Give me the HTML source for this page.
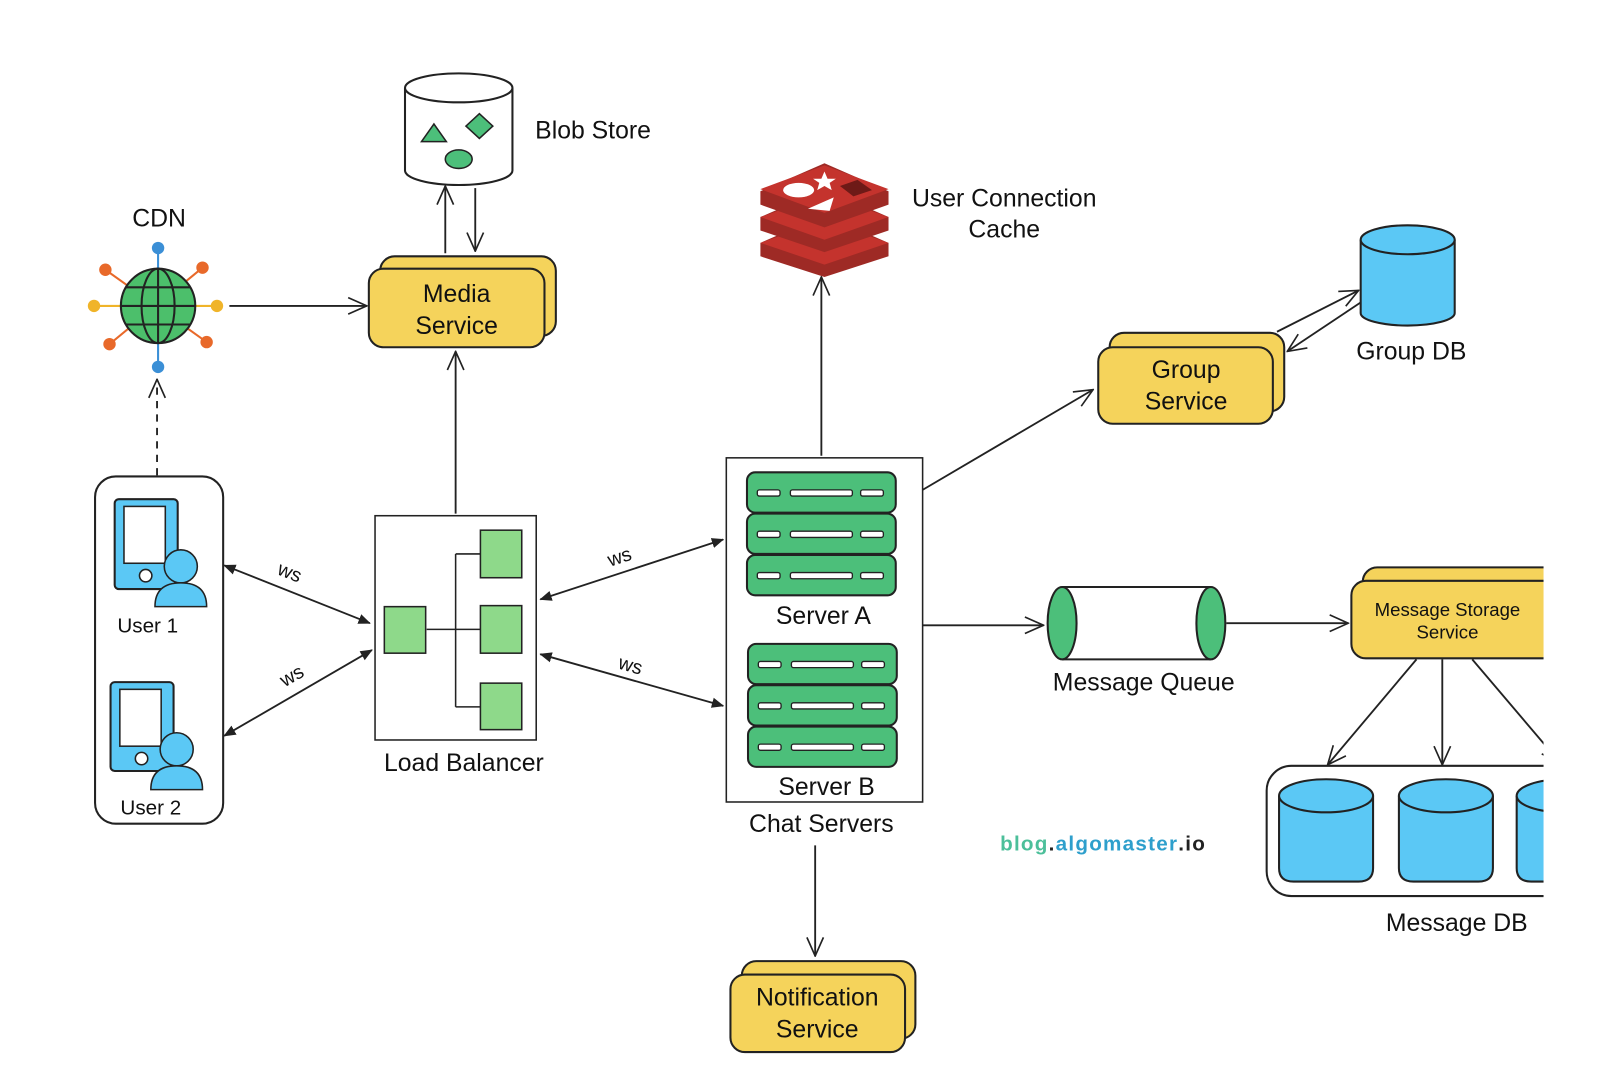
<!DOCTYPE html>
<html><head><meta charset="utf-8"><style>html,body{margin:0;padding:0;background:#fff}svg{display:block}</style></head>
<body>
<svg width="1620" height="1080" viewBox="0 0 1568 1045" preserveAspectRatio="none" xmlns="http://www.w3.org/2000/svg" font-family="Liberation Sans, sans-serif">
<defs>
<marker id="v" viewBox="0 0 20 20" refX="19" refY="10" markerWidth="20" markerHeight="20" markerUnits="userSpaceOnUse" orient="auto-start-reverse"><path d="M1,2 L19,10 L1,18" fill="none" stroke="#222" stroke-width="1.6"/></marker>
<marker id="t" viewBox="0 0 12 12" refX="11" refY="6" markerWidth="12" markerHeight="12" markerUnits="userSpaceOnUse" orient="auto-start-reverse"><path d="M0,1 L12,6 L0,11 Z" fill="#222"/></marker>
</defs>
<g stroke="#222" stroke-width="1.8" fill="none">
<line x1="431" y1="245" x2="431" y2="180" marker-end="url(#v)"/>
<line x1="460" y1="182" x2="460" y2="243" marker-end="url(#v)"/>
<line x1="222" y1="296" x2="355" y2="296" marker-end="url(#v)"/>
<line x1="152" y1="460" x2="152" y2="367" stroke-dasharray="7,6" marker-end="url(#v)"/>
<line x1="217" y1="547" x2="358" y2="603" marker-start="url(#t)" marker-end="url(#t)"/>
<line x1="217" y1="712" x2="360" y2="629" marker-start="url(#t)" marker-end="url(#t)"/>
<line x1="441" y1="497" x2="441" y2="340" marker-end="url(#v)"/>
<line x1="523" y1="580" x2="700" y2="522" marker-start="url(#t)" marker-end="url(#t)"/>
<line x1="523" y1="633" x2="700" y2="683" marker-start="url(#t)" marker-end="url(#t)"/>
<line x1="795" y1="441" x2="795" y2="268" marker-end="url(#v)"/>
<line x1="893" y1="474" x2="1058" y2="377" marker-end="url(#v)"/>
<line x1="1236" y1="321" x2="1315" y2="281" marker-end="url(#v)"/>
<line x1="1318" y1="292" x2="1246" y2="340" marker-end="url(#v)"/>
<line x1="893" y1="605" x2="1010" y2="605" marker-end="url(#v)"/>
<line x1="1187" y1="603" x2="1305" y2="603" marker-end="url(#v)"/>
<line x1="1371" y1="638" x2="1285" y2="740" marker-end="url(#v)"/>
<line x1="1396" y1="638" x2="1396" y2="740" marker-end="url(#v)"/>
<line x1="1425" y1="638" x2="1510" y2="738" marker-end="url(#v)"/>
<line x1="789" y1="818" x2="789" y2="925" marker-end="url(#v)"/>
</g>
<g stroke="#222" stroke-width="2">
<path d="M392,85 V165 A52,14 0 0 0 496,165 V85" fill="#fff"/>
<ellipse cx="444" cy="85" rx="52" ry="14" fill="#fff"/>
<path d="M408,137 L420,120 L432,137 Z" fill="#4cbf7a" stroke-width="1.5"/>
<path d="M464,110 L477,122 L464,134 L451,122 Z" fill="#4cbf7a" stroke-width="1.5"/>
<ellipse cx="444" cy="154" rx="13" ry="9" fill="#4cbf7a" stroke-width="1.5"/>
<rect x="368" y="248" width="170" height="77" rx="14" fill="#f5d35b"/>
<rect x="357" y="260" width="170" height="76" rx="14" fill="#f5d35b"/>
<rect x="1074" y="322" width="169" height="76" rx="14" fill="#f5d35b"/>
<rect x="1063" y="336" width="169" height="74" rx="14" fill="#f5d35b"/>
<rect x="718" y="930" width="168" height="75" rx="14" fill="#f5d35b"/>
<rect x="707" y="943" width="169" height="75" rx="14" fill="#f5d35b"/>
<rect x="1319" y="549" width="200" height="75" rx="14" fill="#f5d35b"/>
<rect x="1308" y="562" width="200" height="75" rx="14" fill="#f5d35b"/>
<path d="M1317,232 V303 A45.5,12 0 0 0 1408,303 V232" fill="#5bc8f5"/>
<ellipse cx="1362.5" cy="232" rx="45.5" ry="14" fill="#5bc8f5"/>
<rect x="1028" y="568" width="144" height="70" fill="#fff" stroke="none"/>
<path d="M1028,568 H1172 M1028,638 H1172"/>
<ellipse cx="1172" cy="603" rx="14" ry="35" fill="#4cbf7a"/>
<ellipse cx="1028" cy="603" rx="14" ry="35" fill="#4cbf7a"/>
<rect x="1226" y="741" width="320" height="126" rx="24" fill="#fff"/>
<g fill="#5bc8f5">
<path d="M1238,770 V840 Q1238,853 1252,853 H1315 Q1329,853 1329,840 V770"/><ellipse cx="1283.5" cy="770" rx="45.5" ry="16"/>
<path d="M1354,770 V840 Q1354,853 1368,853 H1431 Q1445,853 1445,840 V770"/><ellipse cx="1399.5" cy="770" rx="45.5" ry="16"/>
<path d="M1468,770 V840 Q1468,853 1482,853 H1545 Q1559,853 1559,840 V770"/><ellipse cx="1513.5" cy="770" rx="45.5" ry="16"/>
</g>
<rect x="92" y="461" width="124" height="336" rx="20" fill="#fff"/>
<rect x="111" y="483" width="61" height="87" rx="4" fill="#5bc8f5"/>
<rect x="120" y="490" width="40" height="55" fill="#fff" stroke-width="1.5"/>
<circle cx="141" cy="557" r="6" fill="#fff" stroke-width="1.5"/>
<circle cx="175" cy="548" r="16" fill="#5bc8f5" stroke-width="1.5"/>
<path d="M150,587 Q150,564 175,564 Q200,564 200,587 Z" fill="#5bc8f5" stroke-width="1.5"/>
<rect x="107" y="660" width="61" height="86" rx="4" fill="#5bc8f5"/>
<rect x="116" y="667" width="40" height="55" fill="#fff" stroke-width="1.5"/>
<circle cx="137" cy="734" r="6" fill="#fff" stroke-width="1.5"/>
<circle cx="171" cy="725" r="16" fill="#5bc8f5" stroke-width="1.5"/>
<path d="M146,764 Q146,741 171,741 Q196,741 196,764 Z" fill="#5bc8f5" stroke-width="1.5"/>
<rect x="363" y="499" width="156" height="217" fill="#fff" stroke-width="1.5"/>
<g stroke-width="1.5" fill="none"><path d="M413,609 H441 M441,536 V684 M441,536 H465 M441,609 H465 M441,684 H465"/></g>
<g fill="#8ed98a" stroke-width="1.5">
<rect x="372" y="587" width="40" height="45"/>
<rect x="465" y="513" width="40" height="46"/>
<rect x="465" y="586" width="40" height="46"/>
<rect x="465" y="661" width="40" height="45"/>
</g>
<rect x="703" y="443" width="190" height="333" fill="#fff" stroke-width="1.5"/>
<g fill="#4cbf7a">
<rect x="723" y="457" width="144" height="39" rx="8"/><rect x="723" y="497" width="144" height="39" rx="8"/><rect x="723" y="537" width="144" height="39" rx="8"/>
<rect x="724" y="623" width="144" height="39" rx="8"/><rect x="724" y="663" width="144" height="39" rx="8"/><rect x="724" y="703" width="144" height="39" rx="8"/>
</g>
<g fill="#fff" stroke-width="1.3">
<rect x="733" y="474" width="22" height="6" rx="2"/><rect x="765" y="474" width="60" height="6" rx="2"/><rect x="833" y="474" width="22" height="6" rx="2"/>
<rect x="733" y="514" width="22" height="6" rx="2"/><rect x="765" y="514" width="60" height="6" rx="2"/><rect x="833" y="514" width="22" height="6" rx="2"/>
<rect x="733" y="554" width="22" height="6" rx="2"/><rect x="765" y="554" width="60" height="6" rx="2"/><rect x="833" y="554" width="22" height="6" rx="2"/>
<rect x="734" y="640" width="22" height="6" rx="2"/><rect x="766" y="640" width="60" height="6" rx="2"/><rect x="834" y="640" width="22" height="6" rx="2"/>
<rect x="734" y="680" width="22" height="6" rx="2"/><rect x="766" y="680" width="60" height="6" rx="2"/><rect x="834" y="680" width="22" height="6" rx="2"/>
<rect x="734" y="720" width="22" height="6" rx="2"/><rect x="766" y="720" width="60" height="6" rx="2"/><rect x="834" y="720" width="22" height="6" rx="2"/>
</g>
</g>
<g stroke-width="2">
<g stroke="#3b8fd6"><line x1="153" y1="240" x2="153" y2="355"/></g>
<g stroke="#e8692a"><line x1="102" y1="261" x2="200" y2="331"/><line x1="196" y1="259" x2="106" y2="333"/></g>
<g stroke="#f0b429"><line x1="91" y1="296" x2="210" y2="296"/></g>
<circle cx="153" cy="240" r="6" fill="#3b8fd6"/><circle cx="153" cy="355" r="6" fill="#3b8fd6"/>
<circle cx="91" cy="296" r="6" fill="#f0b429"/><circle cx="210" cy="296" r="6" fill="#f0b429"/>
<circle cx="102" cy="261" r="6" fill="#e8692a"/><circle cx="196" cy="259" r="6" fill="#e8692a"/>
<circle cx="106" cy="333" r="6" fill="#e8692a"/><circle cx="200" cy="331" r="6" fill="#e8692a"/>
<g stroke="#222"><circle cx="153" cy="296" r="36" fill="#4cbf6b"/>
<ellipse cx="153" cy="296" rx="16" ry="36" fill="none"/><line x1="153" y1="260" x2="153" y2="332"/>
<line x1="117" y1="296" x2="189" y2="296"/><path d="M122,278 H184 M122,314 H184" fill="none"/></g>
</g>
<g>
<path d="M736,235 L798,208 L860,235 V248 L798,268 L736,248 Z" fill="#9e2a25"/>
<path d="M736,235 L798,213 L860,235 L798,256 Z" fill="#c4332d"/>
<path d="M736,210 L798,183 L860,210 V223 L798,244 L736,223 Z" fill="#9e2a25"/>
<path d="M736,210 L798,188 L860,210 L798,232 Z" fill="#c4332d"/>
<path d="M736,185 L798,158 L860,185 V198 L798,220 L736,198 Z" fill="#9e2a25"/>
<path d="M736,183 L798,160 L860,183 L798,206 Z" fill="#c4332d"/>
<ellipse cx="773" cy="184" rx="15" ry="7" fill="#fff"/>
<path d="M798,166 L801,173 L809,173 L803,177 L805,184 L798,180 L791,184 L793,177 L787,173 L795,173 Z" fill="#fff"/>
<path d="M782,202 L807,191 L803,204 Z" fill="#fff"/>
<path d="M813,180 L830,174 L844,184 L826,190 Z" fill="#6e1a17"/>
</g>
<g fill="#111" font-size="24" text-anchor="middle">
<text x="574" y="134">Blob Store</text>
<text x="154" y="219">CDN</text>
<text x="442" y="292">Media</text><text x="442" y="323">Service</text>
<text x="972" y="200">User Connection</text><text x="972" y="230">Cache</text>
<text x="1148" y="366">Group</text><text x="1148" y="396">Service</text>
<text x="1366" y="348">Group DB</text>
<text x="143" y="612" font-size="20">User 1</text>
<text x="146" y="788" font-size="20">User 2</text>
<text x="449" y="746">Load Balancer</text>
<text x="797" y="604">Server A</text>
<text x="800" y="769">Server B</text>
<text x="795" y="805">Chat Servers</text>
<text x="1107" y="668">Message Queue</text>
<text x="1401" y="596" font-size="18">Message Storage</text><text x="1401" y="618" font-size="18">Service</text>
<text x="1410" y="901">Message DB</text>
<text x="791" y="973">Notification</text><text x="791" y="1004">Service</text>
<g font-size="19">
<text x="280" y="560" transform="rotate(22 280 555)">ws</text>
<text x="283" y="660" transform="rotate(-30 283 655)">ws</text>
<text x="600" y="545" transform="rotate(-18 600 540)">ws</text>
<text x="610" y="650" transform="rotate(16 610 645)">ws</text>
</g>
</g>
<text x="968" y="823" font-size="20" font-weight="bold" letter-spacing="1.2"><tspan fill="#4cbf9a">blog</tspan><tspan fill="#222">.</tspan><tspan fill="#2e9fcc">algomaster</tspan><tspan fill="#222">.io</tspan></text>
<rect x="1494" y="0" width="80" height="1045" fill="#fff"/>
</svg>
</body></html>
